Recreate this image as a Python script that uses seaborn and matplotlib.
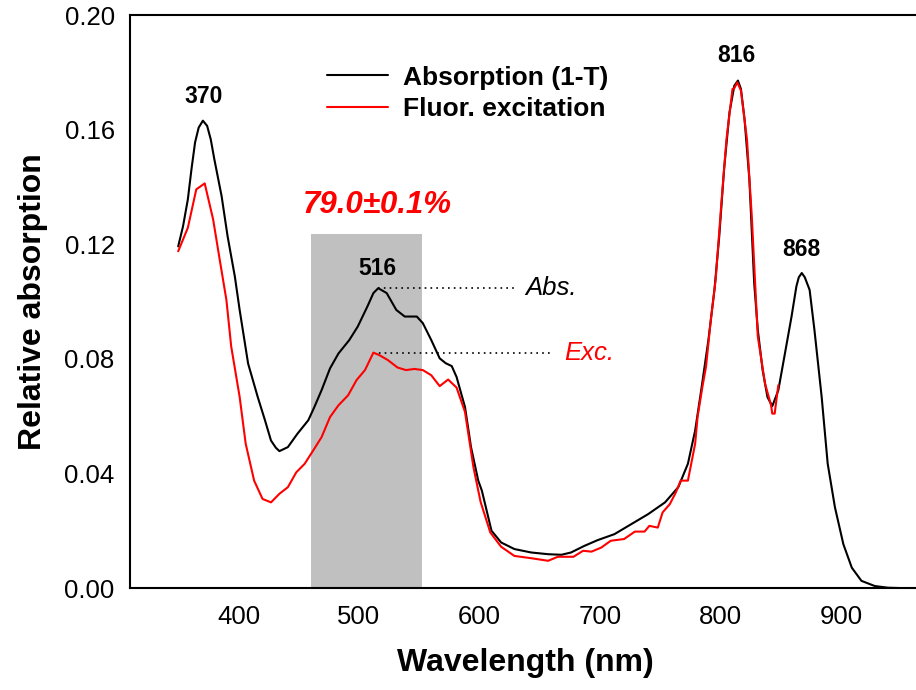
import numpy as np
import pandas as pd
import matplotlib
matplotlib.use("Agg")
import matplotlib.pyplot as plt
import seaborn as sns
from matplotlib.patches import Rectangle

# ---------------- data ----------------
abs_wl = [350, 354, 358, 361, 364, 367, 370.5, 374, 377, 380, 386, 391, 397, 401, 408,
          416, 422, 427, 431, 434, 441, 449, 458, 463, 469, 476, 483, 492, 499, 507,
          512, 516, 523, 531, 538, 548, 553, 560, 567, 572, 577, 581, 588, 593, 599,
          602, 610, 618, 629, 643, 657, 668, 676, 687, 698, 712, 726, 740, 754, 765,
          773, 779, 784, 790, 795, 799, 803, 807.5, 811.5, 814.5, 817, 820, 824, 828,
          831, 835, 839, 843, 848, 853, 859, 863, 865, 867.5, 870, 874, 878, 884, 889,
          895, 902, 909, 917, 928, 939, 948]
abs_val = [0.1193, 0.1263, 0.1357, 0.1462, 0.1556, 0.1608, 0.1632, 0.1614, 0.1567, 0.1497,
           0.1369, 0.1228, 0.1088, 0.0971, 0.0784, 0.0667, 0.0586, 0.0515, 0.049, 0.0478,
           0.0492, 0.0539, 0.0586, 0.0632, 0.0691, 0.0767, 0.0819, 0.0866, 0.0913, 0.0983,
           0.1030, 0.1047, 0.1030, 0.0971, 0.0948, 0.0948, 0.0925, 0.0866, 0.0802, 0.0785,
           0.0775, 0.0737, 0.0632, 0.0492, 0.0375, 0.034, 0.020, 0.0159, 0.0136, 0.0124,
           0.0118, 0.0116, 0.0124, 0.0147, 0.0167, 0.0188, 0.0223, 0.0258, 0.0299, 0.0352,
           0.0434, 0.0550, 0.069, 0.0866, 0.1041, 0.1228, 0.1462, 0.1661, 0.1754, 0.1772,
           0.1743, 0.1637, 0.1427, 0.1065, 0.0901, 0.0761, 0.0667, 0.0635, 0.069, 0.0807,
           0.0948, 0.1053, 0.1085, 0.1100, 0.1085, 0.1041, 0.0901, 0.0667, 0.0434, 0.0282,
           0.0153, 0.0071, 0.0025, 0.0007, 0.0001, 0.0]

exc_wl = [350, 358, 365, 372, 379, 384, 390, 394, 401, 406, 413, 420, 427, 434, 441,
          448, 455, 462, 469, 476, 483, 491, 498, 505, 512, 517, 524, 532, 539, 546,
          553, 560, 567, 574, 581, 588, 595, 601, 609, 618, 629, 643, 657, 665, 678,
          686, 693, 701, 709, 720, 729, 737, 741, 748, 752, 758, 763, 767, 773, 779,
          781, 785, 788, 792, 796, 801, 805, 810, 811.5, 814, 817, 822, 826, 831, 837,
          842, 843, 845, 848]
exc_val = [0.1176, 0.1258, 0.1392, 0.1413, 0.1287, 0.1158, 0.1006, 0.0843, 0.0667, 0.0504,
           0.0375, 0.0311, 0.0299, 0.0329, 0.0352, 0.0404, 0.0434, 0.048, 0.0527, 0.0597,
           0.0638, 0.0673, 0.0726, 0.0761, 0.0822, 0.0813, 0.0796, 0.077, 0.0761, 0.0765,
           0.0761, 0.0743, 0.0705, 0.0728, 0.070, 0.0615, 0.0422, 0.030, 0.0194, 0.0144,
           0.0112, 0.0104, 0.0095, 0.0109, 0.0109, 0.013, 0.0127, 0.0141, 0.0165, 0.0171,
           0.0197, 0.0197, 0.0217, 0.0211, 0.0264, 0.0293, 0.0334, 0.0375, 0.0375, 0.0504,
           0.0597, 0.0702, 0.0772, 0.0936, 0.1076, 0.1357, 0.1567, 0.1743, 0.1745, 0.1766,
           0.1737, 0.1567, 0.1298, 0.0878, 0.0714, 0.0638, 0.0609, 0.0609, 0.0708]

series_names = ["Absorption (1-T)", "Fluor. excitation"]
x_ticks = [400, 500, 600, 700, 800, 900]
y_ticks = [0.00, 0.04, 0.08, 0.12, 0.16, 0.20]
peak_labels = ["370", "516", "816", "868"]
peak_pos = [(371, 0.1694), (515.5, 0.1094), (813, 0.1836), (867, 0.1161)]
band = (460, 552, 0.1235)
abs_mark = 0.1047
exc_mark = 0.0819
qy_text = "79.0±0.1%"

# ---------------- style ----------------
sns.set_style("white")
plt.rcParams["font.family"] = ["Liberation Sans", "DejaVu Sans"]
for k in ["text.color", "axes.labelcolor", "xtick.color", "ytick.color", "axes.edgecolor"]:
    plt.rcParams[k] = "black"

df = pd.concat([
    pd.DataFrame({"wl": abs_wl, "val": abs_val, "series": series_names[0]}),
    pd.DataFrame({"wl": exc_wl, "val": exc_val, "series": series_names[1]}),
], ignore_index=True)

fig = plt.figure(figsize=(9.16, 6.90), dpi=100)
ax = fig.add_axes([130 / 916, 102 / 690, 790 / 916, 572.7 / 690])

# gray band
ax.add_patch(Rectangle((band[0], 0), band[1] - band[0], band[2],
                       facecolor="#c0c0c0", edgecolor="none", zorder=0))

sns.lineplot(data=df, x="wl", y="val", hue="series", hue_order=series_names,
             palette={series_names[0]: "black", series_names[1]: "red"},
             estimator=None, linewidth=1.5, ax=ax, zorder=3)

# dotted guide lines
ax.plot([516, 629], [abs_mark, abs_mark], color="black", lw=1.2,
        linestyle=(0, (1, 2.5)), zorder=2)
ax.plot([512, 659], [exc_mark, exc_mark], color="black", lw=1.2,
        linestyle=(0, (1, 2.5)), zorder=2)
ax.text(638, abs_mark, "Abs.", fontsize=18.5, style="italic", color="black",
        va="center", ha="left")
ax.text(670, exc_mark, "Exc.", fontsize=18.5, style="italic", color="red",
        va="center", ha="left")

for lab, (px, py) in zip(peak_labels, peak_pos):
    ax.text(px, py, lab, fontsize=16.5, fontweight="bold", ha="center", va="baseline",
            color="black")

ax.text(515, 0.131, qy_text, fontsize=22.5, fontweight="bold", style="italic",
        color="red", ha="center", va="baseline")

ax.set_xlim(310, 310 + 790 / 1.205)
ax.set_ylim(0, 0.20)
ax.set_xticks(x_ticks)
ax.set_yticks(y_ticks)
ax.set_yticklabels([f"{v:.2f}" for v in y_ticks])
ax.tick_params(axis="both", direction="in", length=8, width=1.3,
               labelsize=18.5, color="black", labelcolor="black")
ax.tick_params(axis="x", pad=12)
ax.tick_params(axis="y", pad=11)

ax.set_xlabel("Wavelength (nm)", fontsize=23, fontweight="bold", labelpad=14,
              color="black")
ax.set_ylabel("Relative absorption", fontsize=23, fontweight="bold", labelpad=12,
              color="black")

for s in ["left", "top", "bottom"]:
    ax.spines[s].set_visible(True)
    ax.spines[s].set_color("black")
    ax.spines[s].set_linewidth(1.5)
ax.spines["right"].set_visible(False)

leg = ax.legend(loc="upper left", bbox_to_anchor=(0.249, 0.912), frameon=False,
                fontsize=19, handlelength=2.33, handletextpad=0.57,
                labelspacing=0.27, borderpad=0, borderaxespad=0, title=None)
for t in leg.get_texts():
    t.set_fontweight("bold")
    t.set_color("black")
for h in leg.get_lines():
    h.set_linewidth(1.5)

fig.savefig("out.png", dpi=100)
